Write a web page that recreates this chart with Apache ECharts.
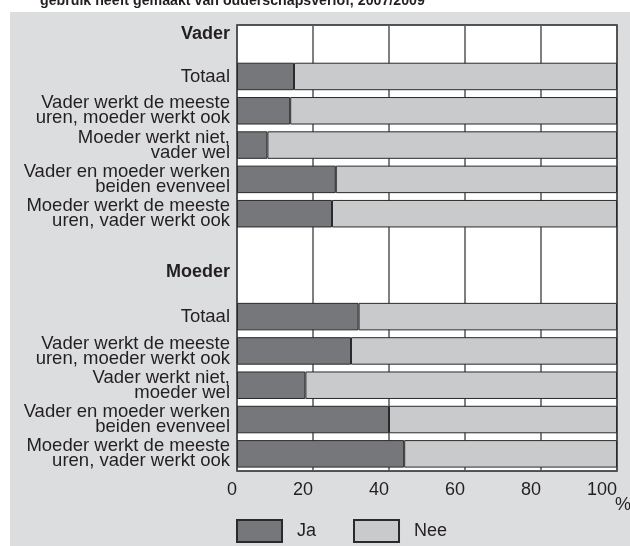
<!DOCTYPE html>
<html>
<head>
<meta charset="utf-8">
<script src="https://cdn.jsdelivr.net/npm/echarts@6/dist/echarts.min.js"></script>
<style>
  html, body { margin: 0; padding: 0; background: #fff; }
  #main { width: 630px; height: 546px; }
</style>
</head>
<body>
<div id="main"></div>
<script>
// categorieen (van boven naar beneden), lege regels voor kopjes
var categories = [
  'Vader',
  'Totaal',
  'Vader werkt de meeste\nuren, moeder werkt ook',
  'Moeder werkt niet,\nvader wel',
  'Vader en moeder werken\nbeiden evenveel',
  'Moeder werkt de meeste\nuren, vader werkt ook',
  '',
  'Moeder',
  'Totaal',
  'Vader werkt de meeste\nuren, moeder werkt ook',
  'Vader werkt niet,\nmoeder wel',
  'Vader en moeder werken\nbeiden evenveel',
  'Moeder werkt de meeste\nuren, vader werkt ook'
];
// percentages
var jaValues  = ['-', 15, 14, 8, 26, 25, '-', '-', 32, 30, 18, 40, 44];
var neeValues = ['-', 85, 86, 92, 74, 75, '-', '-', 68, 70, 82, 60, 56];
var xTicks = [0, 20, 40, 60, 80, 100];

var FONT = '"Liberation Sans", Arial, sans-serif';
var TXT = '#231f20';

var chart = echarts.init(document.getElementById('main'));

chart.setOption({
  backgroundColor: '#fff',
  animation: false,
  textStyle: { fontFamily: FONT },
  graphic: [
    {
      type: 'rect', z: -10, silent: true,
      shape: { x: 10, y: 12, width: 620, height: 534 },
      style: { fill: '#dcdddf' }
    },
    {
      type: 'text', z: -5, left: 40, top: -6,
      style: { text: 'gebruik heeft gemaakt van ouderschapsverlof, 2007/2009', fontSize: 14.2, fontWeight: 'bold', fontFamily: FONT, fill: TXT }
    },
    {
      type: 'text', left: 615, top: 496,
      style: { text: '%', fontSize: 18, fontFamily: FONT, fill: TXT }
    }
  ],
  legend: {
    left: 236, top: 519, padding: 0,
    itemWidth: 45, itemHeight: 22, itemGap: 37,
    icon: 'rect',
    textStyle: { fontSize: 18, color: TXT, fontFamily: FONT, padding: [0, 0, 0, 10] },
    data: ['Ja', 'Nee']
  },
  grid: {
    left: 237, right: 13, top: 25, bottom: 75,
    show: true, backgroundColor: '#fff', borderColor: '#222', borderWidth: 1.5
  },
  xAxis: {
    type: 'value', min: 0, max: 100, interval: 20,
    axisLine: { show: false },
    axisTick: { show: false },
    splitLine: { show: true, lineStyle: { color: '#555', width: 1.5 } },
    axisLabel: {
      fontSize: 18, color: TXT, fontFamily: FONT, margin: 10, align: 'right',
      formatter: function (v) { return xTicks.indexOf(v) >= 0 ? String(v) : ''; }
    }
  },
  yAxis: {
    type: 'category', inverse: true, data: categories,
    axisLine: { show: false },
    axisTick: { show: false },
    splitLine: { show: false },
    axisLabel: {
      fontSize: 18.5, lineHeight: 15, color: TXT, fontFamily: FONT, margin: 7, interval: 0,
      formatter: function (v, i) {
        var t = categories[i];
        if (t === 'Vader') return '{v|Vader}';
        if (t === 'Moeder') return '{m|Moeder}';
        return t;
      },
      rich: {
        v: { fontSize: 18, fontWeight: 'bold', color: TXT, fontFamily: FONT, padding: [0, 0, 17, 0] },
        m: { fontSize: 18, fontWeight: 'bold', color: TXT, fontFamily: FONT, padding: [0, 0, 21, 0] }
      }
    }
  },
  series: [
    {
      name: 'Ja', type: 'bar', stack: 'tot', barWidth: 27.5,
      itemStyle: { color: '#76777b', borderColor: '#2a2a2a', borderWidth: 1 },
      data: jaValues
    },
    {
      name: 'Nee', type: 'bar', stack: 'tot', barWidth: 27.5,
      itemStyle: { color: '#c9cacc', borderColor: '#2a2a2a', borderWidth: 1 },
      data: neeValues
    }
  ]
});
</script>
</body>
</html>
